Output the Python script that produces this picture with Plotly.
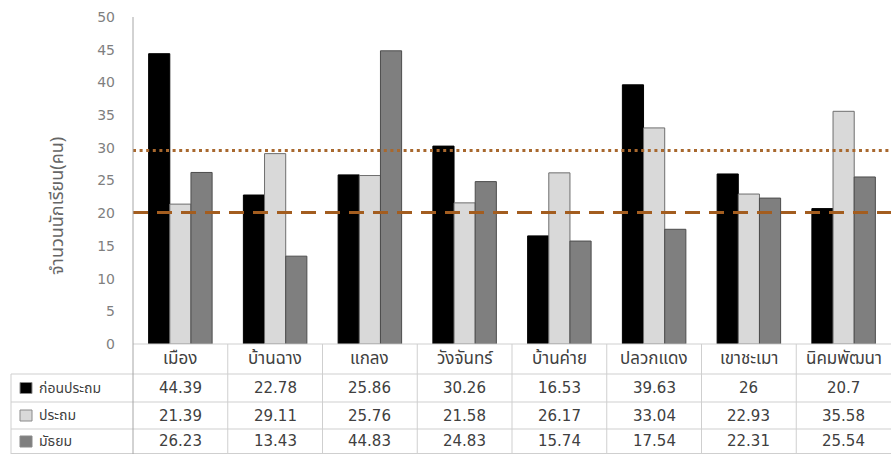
import plotly.graph_objects as go

categories = ["เมือง", "บ้านฉาง", "แกลง", "วังจันทร์", "บ้านค่าย", "ปลวกแดง", "เขาชะเมา", "นิคมพัฒนา"]
series_names = ["ก่อนประถม", "ประถม", "มัธยม"]
pre_primary = [44.39, 22.78, 25.86, 30.26, 16.53, 39.63, 26, 20.7]
primary = [21.39, 29.11, 25.76, 21.58, 26.17, 33.04, 22.93, 35.58]
secondary = [26.23, 13.43, 44.83, 24.83, 15.74, 17.54, 22.31, 25.54]
series_values = [pre_primary, primary, secondary]
y_ticks = [0, 5, 10, 15, 20, 25, 30, 35, 40, 45, 50]
upper_ref = 29.6
lower_ref = 20.1
y_title = "จำนวนนักเรียน(คน)"

colors = ["#000000", "#d9d9d9", "#7f7f7f"]
outlines = ["#000000", "#6e6e6e", "#4d4d4d"]
THAI = "Noto Sans Thai, Noto Sans, sans-serif"
NUM = "DejaVu Sans, Noto Sans Thai, sans-serif"

W, H = 891, 454
L, T, B = 133, 17, 110
PH = H - T - B
PW = W - L

def py(p):
    return (H - B - p) / PH

def px(p):
    return (p - L) / PW

fig = go.Figure()
for name, vals, c, oc in zip(series_names, series_values, colors, outlines):
    fig.add_trace(go.Bar(x=categories, y=vals, name=name, marker=dict(color=c, line=dict(color=oc, width=1)),
                         showlegend=False, hoverinfo="skip"))

shapes = []
line_col = "#cfcfcf"
shapes.append(dict(type="line", xref="paper", yref="y", x0=0, x1=1, y0=upper_ref, y1=upper_ref,
                   line=dict(color="#a8682e", width=3, dash="3px,3.6px")))
shapes.append(dict(type="line", xref="paper", yref="y", x0=0, x1=1, y0=lower_ref, y1=lower_ref,
                   line=dict(color="#a35d1f", width=3, dash="15px,9px")))
row_lines = [374, 402, 429, 453.5]
for r in row_lines:
    shapes.append(dict(type="line", xref="paper", yref="paper", x0=px(11), x1=1, y0=py(r), y1=py(r),
                       line=dict(color=line_col, width=1)))
shapes.append(dict(type="line", xref="paper", yref="paper", x0=0, x1=1, y0=0, y1=0,
                   line=dict(color=line_col, width=1)))
shapes.append(dict(type="line", xref="paper", yref="paper", x0=px(11), x1=px(11), y0=py(374), y1=py(454),
                   line=dict(color=line_col, width=1)))
n = len(categories)
for k in range(1, n):
    xk = k / n
    shapes.append(dict(type="line", xref="paper", yref="paper", x0=xk, x1=xk, y0=0, y1=py(454),
                       line=dict(color=line_col, width=1)))
shapes.append(dict(type="line", xref="paper", yref="paper", x0=0, x1=0, y0=py(454), y1=1,
                   line=dict(color="#a6a6a6", width=1)))

annotations = []
header_y = py(359)
row_y = [py(388), py(415.5), py(441.5)]
for c in categories:
    annotations.append(dict(x=c, y=header_y, xref="x", yref="paper", text=c, showarrow=False,
                            font=dict(family=THAI, size=17, color="#404040"), yanchor="middle"))
for i, (name, vals) in enumerate(zip(series_names, series_values)):
    for c, v in zip(categories, vals):
        annotations.append(dict(x=c, y=row_y[i], xref="x", yref="paper", text=f"{v:g}", showarrow=False,
                                font=dict(family=NUM, size=15, color="#404040"), yanchor="middle"))
    annotations.append(dict(x=px(37), y=row_y[i], xref="paper", yref="paper", text=name, showarrow=False,
                            xanchor="left", yanchor="middle",
                            font=dict(family=THAI, size=14, color="#404040")))
    shapes.append(dict(type="rect", xref="paper", yref="paper", x0=px(20), x1=px(32),
                       y0=row_y[i] - 5.5 / PH, y1=row_y[i] + 5.5 / PH,
                       fillcolor=colors[i], line=dict(color="#8a8a8a", width=1)))

annotations.append(dict(x=px(57), y=py(206), xref="paper", yref="paper", text=y_title, showarrow=False,
                        textangle=-90, xanchor="center", yanchor="middle",
                        font=dict(family=THAI, size=18, color="#666666")))

fig.update_layout(
    width=W, height=H,
    margin=dict(l=L, r=0, t=T, b=B),
    paper_bgcolor="white", plot_bgcolor="white",
    barmode="group", bargap=0.33, bargroupgap=0,
    xaxis=dict(showticklabels=False, showgrid=False, zeroline=False, showline=False, ticks=""),
    yaxis=dict(range=[0, 50], tickvals=y_ticks, showgrid=False, zeroline=False, showline=False,
               ticks="", ticklabelstandoff=17,
               tickfont=dict(family=NUM, size=14, color="#7f7f7f")),
    shapes=shapes, annotations=annotations,
)

fig.write_html("out.html", config={"displayModeBar": False},
               post_script="document.body.style.margin='0';document.body.style.overflow='hidden';")
